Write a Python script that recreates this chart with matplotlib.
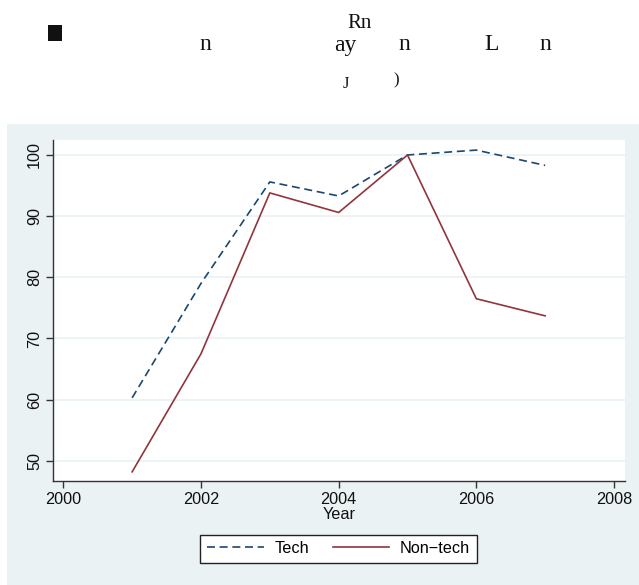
import matplotlib
matplotlib.use("Agg")
import matplotlib.pyplot as plt
from matplotlib.patches import Rectangle

# data
years = [2001, 2002, 2003, 2004, 2005, 2006, 2007]
tech = [60.3, 79.0, 95.6, 93.3, 100.0, 100.8, 98.3]
non_tech = [48.2, 67.5, 93.8, 90.6, 100.0, 76.5, 73.7]
series_labels = ["Tech", "Non\u2212tech"]
x_ticks = [2000, 2002, 2004, 2006, 2008]
y_ticks = [50, 60, 70, 80, 90, 100]

NAVY = "#1a476f"
MAROON = "#90353b"
PANEL = "#eaf2f3"
AXIS = "#333333"
FS = 11.7

plt.rcParams.update({
    "font.family": ["Liberation Sans", "DejaVu Sans"],
    "font.size": FS,
})

W, H = 639, 585
fig = plt.figure(figsize=(W / 100, H / 100), dpi=100)
fig.patch.set_facecolor("white")

# light outer panel (graph region), kept behind the axes
fig.patches.append(Rectangle((7 / W, 0), (W - 7) / W, (H - 124) / H,
                             transform=fig.transFigure, fc=PANEL, ec="none",
                             zorder=-10))

# title fragments (the reference title rendered as broken glyphs)
serif = dict(family=["Liberation Serif", "DejaVu Serif"], fontsize=17,
             color="#111111", ha="center", va="center")
fig.patches.append(Rectangle((48 / W, 1 - 41 / H), 14 / W, 16 / H,
                             transform=fig.transFigure, fc="#111111",
                             ec="none"))
for txt, px, py in [("n", 205, 45), ("ay", 345, 46), ("n", 404, 45),
                    ("L", 492, 45), ("n", 545, 45)]:
    fig.text(px / W, 1 - py / H, txt, **serif)
fig.text(360 / W, 1 - 24 / H, "Rn", family=["Liberation Serif"],
         fontsize=15, color="#111111", ha="center", va="center")
for txt, px, py in [("J", 346, 84), (")", 396, 80)]:
    fig.text(px / W, 1 - py / H, txt, family=["Liberation Serif"],
             fontsize=12, color="#111111", ha="center", va="center")

ax = fig.add_axes([53 / W, (H - 481) / H, (625 - 53) / W, (481 - 140) / H])
ax.set_facecolor("white")

ax.plot(years, tech, color=NAVY, lw=1.2, dashes=(4.8, 2.8),
        label=series_labels[0], zorder=3)
ax.plot(years, non_tech, color=MAROON, lw=1.2, label=series_labels[1],
        zorder=3)

ax.set_xlim(1999.85, 2008.16)
ax.set_ylim(46.7, 102.45)
ax.set_xticks(x_ticks)
ax.set_yticks(y_ticks)
ax.set_yticklabels([str(v) for v in y_ticks], rotation=90, va="center")
ax.grid(axis="y", color=PANEL, lw=1.2, zorder=1)
ax.set_axisbelow(True)

for side in ("top", "right"):
    ax.spines[side].set_visible(False)
for side in ("left", "bottom"):
    ax.spines[side].set_color(AXIS)
    ax.spines[side].set_linewidth(1.0)
ax.tick_params(length=5, width=1.0, color=AXIS, labelsize=FS,
               labelcolor="#111111", pad=3)
ax.set_xlabel("Year", fontsize=FS, labelpad=0, color="#111111")

leg = ax.legend(loc="center", bbox_to_anchor=(338.5 / W, 1 - 548.5 / H),
                bbox_transform=fig.transFigure, ncol=2, frameon=True,
                fancybox=False, edgecolor="#222222", framealpha=1,
                fontsize=FS, handlelength=3.5, handletextpad=0.65,
                columnspacing=1.45, borderpad=0.4)
leg.get_frame().set_linewidth(1.0)

fig.savefig("out.png", dpi=100)
